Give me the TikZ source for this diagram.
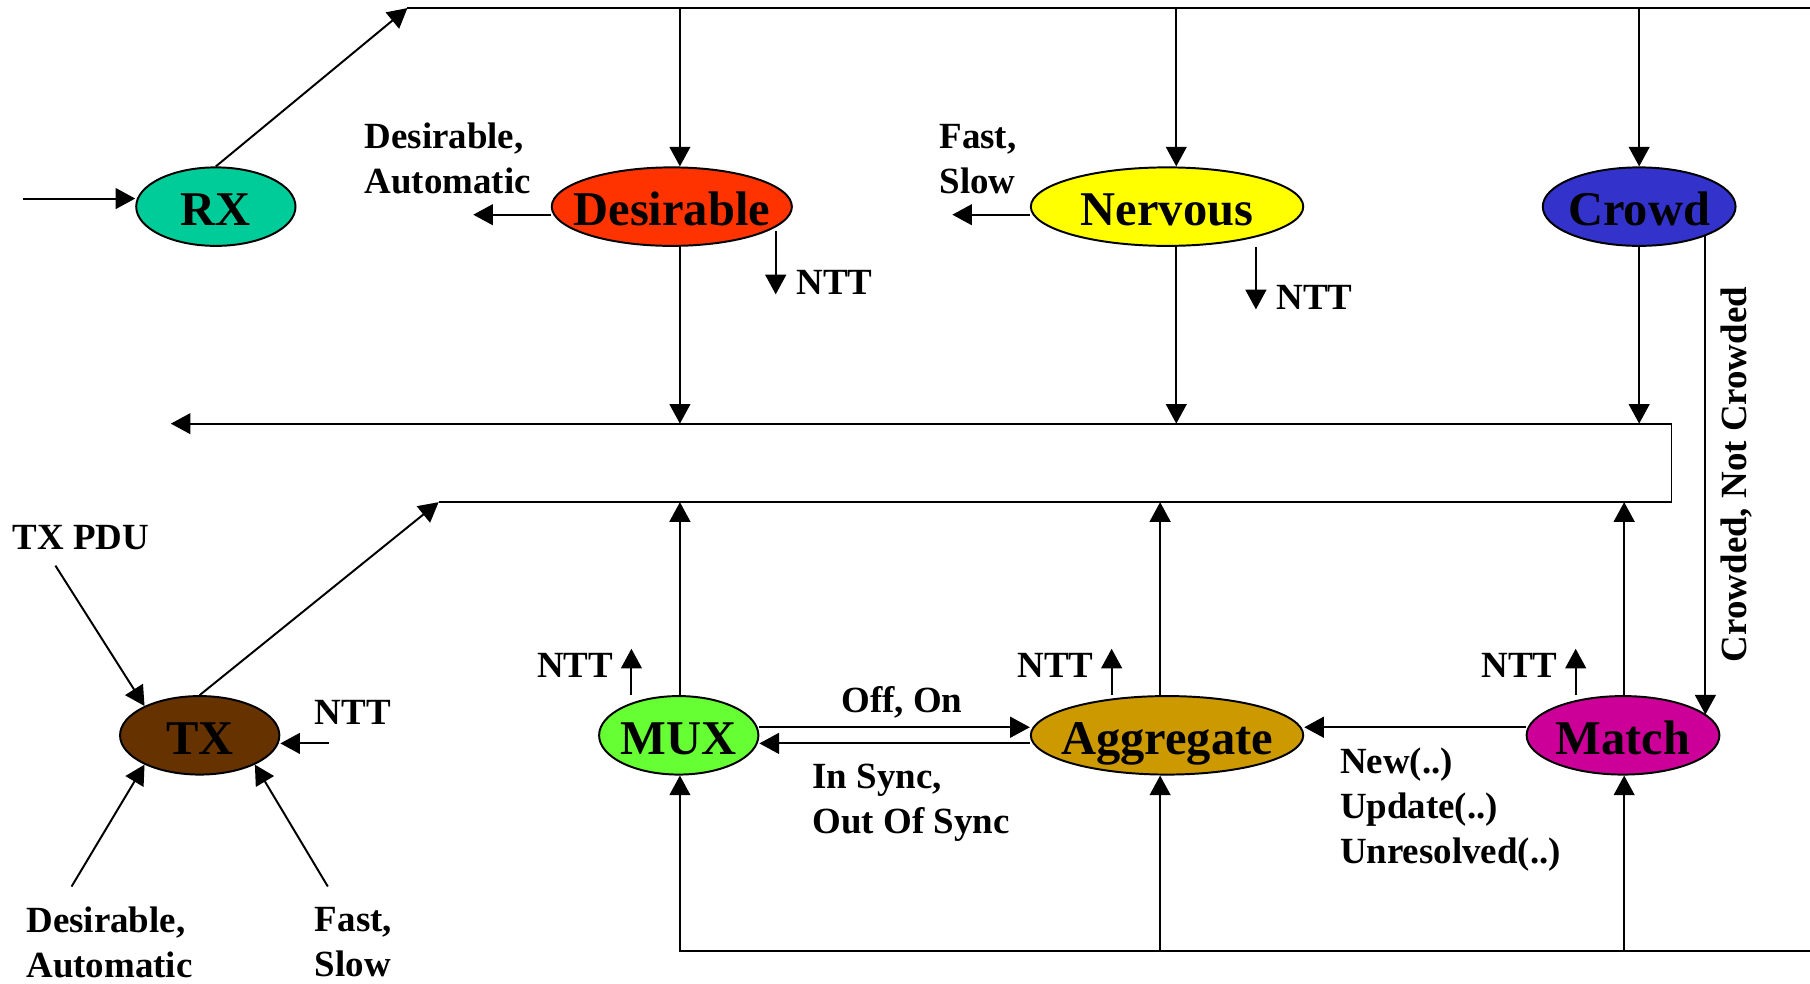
\documentclass[tikz,border=0pt]{standalone}
\usepackage{fontspec}
\setmainfont{Liberation Serif}
\usetikzlibrary{shapes.geometric,arrows.meta,calc}

\definecolor{rxc}{HTML}{00CC99}
\definecolor{desc}{HTML}{FF3300}
\definecolor{nerc}{HTML}{FFFF00}
\definecolor{crc}{HTML}{3333CC}
\definecolor{txc}{HTML}{663300}
\definecolor{muxc}{HTML}{66FF33}
\definecolor{aggc}{HTML}{CC9900}
\definecolor{matc}{HTML}{CC0099}

\begin{document}
\begin{tikzpicture}[
  x=1pt, y=-1pt,
  line width=1.7pt,
  >={Triangle[length=17pt,width=18pt]},
  state/.style={ellipse, draw=black, line width=1.7pt, inner sep=0pt,
    minimum height=68pt, text height=33pt, text depth=0pt,
    font=\fontsize{42}{50}\selectfont\bfseries},
  lbl/.style={font=\fontsize{32}{39}\selectfont\bfseries, inner sep=0pt,
    align=left, anchor=north west},
]
\useasboundingbox (0,0) rectangle (1568,852);

% --- states ---
\node[state, fill=rxc,  minimum width=138pt] (rx)        at (187,179)  {\makebox[0pt]{RX}};
\node[state, fill=desc, minimum width=208pt] (desirable) at (582,179)  {\makebox[0pt]{Desirable}};
\node[state, fill=nerc, minimum width=236pt] (nervous)   at (1011,179) {\makebox[0pt]{Nervous}};
\node[state, fill=crc,  minimum width=167pt] (crowd)     at (1420,179) {\makebox[0pt]{Crowd}};
\node[state, fill=txc,  minimum width=138pt] (tx)        at (173,637)  {\makebox[0pt]{TX}};
\node[state, fill=muxc, minimum width=138pt] (mux)       at (588,637)  {\makebox[0pt]{MUX}};
\node[state, fill=aggc, minimum width=236pt] (aggregate) at (1011,637) {\makebox[0pt]{Aggregate}};
\node[state, fill=matc, minimum width=167pt] (match)     at (1406,637) {\makebox[0pt]{Match}};

% --- bus points ---
\coordinate (in)  at (20,172);
\coordinate (t0)  at (353,7);
\coordinate (tR)  at (1568,7);
\coordinate (vd)  at (589,7);
\coordinate (vn)  at (1019,7);
\coordinate (vc)  at (1420,7);
\coordinate (m0)  at (148,367);
\coordinate (m1)  at (1448,367);
\coordinate (m2)  at (1448,435);
\coordinate (m3)  at (380,435);
\coordinate (um)  at (589,435);
\coordinate (ua)  at (1005,435);
\coordinate (uh)  at (1407,435);
\coordinate (b0)  at (589,824);
\coordinate (bR)  at (1568,824);
\coordinate (ba)  at (1005,824);
\coordinate (bh)  at (1407,824);

% --- receive side ---
\draw[->] (in) -- (in -| rx.west);
\draw[->] (rx.north) -- (t0);
\draw (t0) -- (tR);
\draw[->] (vd) -- (vd |- desirable.north);
\draw[->] (vn) -- (vn |- nervous.north);
\draw[->] (vc) -- (vc |- crowd.north);
\draw[->] (vd |- desirable.south) -- (vd |- m0);
\draw[->] (vn |- nervous.south) -- (vn |- m0);
\draw[->] (vc |- crowd.south) -- (vc |- m0);
\draw[->] (m3) -- (m2) -- (m1) -- (m0);

% outputs of the receive machines
\coordinate (dl) at (410,186);
\draw[->] (dl -| desirable.west) -- (dl);
\node[lbl] (ldes) at (315,106) {Desirable,\\Automatic};
\coordinate (ndA) at (672,200);
\coordinate (ndB) at (672,255);
\draw[->] (ndA) -- (ndB);
\node[lbl] (lndes) at (689,233) {NTT};

\coordinate (nl) at (825,186);
\draw[->] (nl -| nervous.west) -- (nl);
\node[lbl] (lner) at (813,107) {Fast,\\Slow};
\coordinate (nn) at (1088,268);
\draw[->] (nn |- nervous.south) -- (nn);
\node[lbl] (lnner) at (1105,246) {NTT};

% crowd feeds match
\draw[->] (crowd.-24) -- (crowd.-24 |- match.14.6);
\node[font=\fontsize{32}{39}\selectfont\bfseries, inner sep=0pt, rotate=90]
  (lcrowd) at (1504,411) {Crowded, Not Crowded};

% --- transmit side ---
\draw[->] (tx.north) -- (m3);
\coordinate (pdu) at (48,490);
\draw[->] (pdu) -- (tx.152);
\node[lbl] (lpdu) at (10,454) {TX PDU};
\coordinate (ntx) at (285,644);
\draw[->] (ntx) -- (ntx -| tx.east);
\node[lbl] (lntx) at (272,606) {NTT};
\coordinate (da) at (62,768);
\draw[->] (da) -- (tx.208);
\node[lbl] (lda) at (22,785) {Desirable,\\Automatic};
\coordinate (fs) at (284,768);
\draw[->] (fs) -- (tx.-28);
\node[lbl] (lfs) at (272,785) {Fast,\\Slow};

% --- mux / aggregate / match ---
\draw[->] (mux.north -| um) -- (um);
\draw[->] (aggregate.north -| ua) -- (ua);
\draw[->] (match.north -| uh) -- (uh);
\draw[->] (bR) -- (b0) -- (b0 |- mux.south);
\draw[->] (ba) -- (ba |- aggregate.south);
\draw[->] (bh) -- (bh |- match.south);

\draw[->] ([yshift=7pt]mux.east) -- ([yshift=7pt]aggregate.west);
\draw[->] ([yshift=-7pt]aggregate.west) -- ([yshift=-7pt]mux.east);
\draw[->] ([yshift=7pt]match.west) -- ([yshift=7pt]aggregate.east);
\node[lbl] (loff) at (728,594) {Off, On};
\node[lbl] (lsync) at (703,661) {In Sync,\\Out Of Sync};
\node[lbl] (lnew) at (1160,647) {New(..)\\Update(..)\\Unresolved(..)};

\coordinate (nm) at (547,562);
\coordinate (na) at (963,562);
\coordinate (nh) at (1365,562);
\draw[->] (nm |- mux.north) -- (nm);
\draw[->] (na |- aggregate.north) -- (na);
\draw[->] (nh |- match.north) -- (nh);
\node[lbl, anchor=north east] (lnm) at (532,565) {NTT};
\node[lbl, anchor=north east] (lna) at (948,565) {NTT};
\node[lbl, anchor=north east] (lnh) at (1350,565) {NTT};
\end{tikzpicture}
\end{document}
